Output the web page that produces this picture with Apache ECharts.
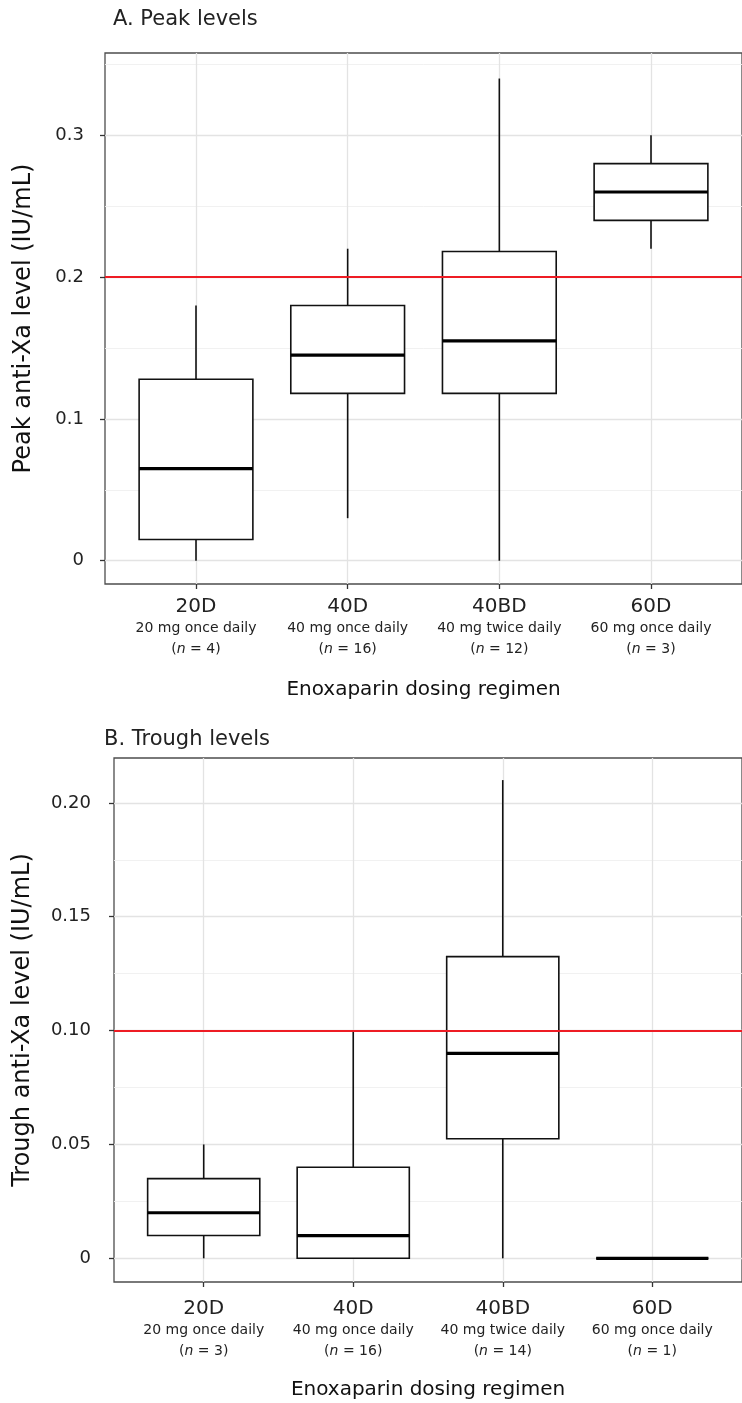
<!DOCTYPE html>
<html>
<head>
<meta charset="utf-8">
<script src="https://cdn.jsdelivr.net/npm/echarts@6/dist/echarts.min.js"></script>
<style>
  html, body { margin: 0; padding: 0; background: #fff; }
  #chart { width: 742px; height: 1403px; }
</style>
</head>
<body>
<div id="chart"></div>
<script>
// dosing regimens on the x axis
const categories = ['20D', '40D', '40BD', '60D'];
const regimens = ['20 mg once daily', '40 mg once daily', '40 mg twice daily', '60 mg once daily'];
const peakN = [4, 16, 12, 3];
const troughN = [3, 16, 14, 1];

// box stats per regimen: [min, Q1, median, Q3, max]
const peakBoxes = [
  [0, 0.015, 0.065, 0.128, 0.18],
  [0.03, 0.118, 0.145, 0.18, 0.22],
  [0, 0.118, 0.155, 0.218, 0.34],
  [0.22, 0.24, 0.26, 0.28, 0.30]
];
const troughBoxes = [
  [0, 0.01, 0.02, 0.035, 0.05],
  [0, 0, 0.01, 0.04, 0.10],
  [0, 0.0525, 0.09, 0.1325, 0.21],
  [0, 0, 0, 0, 0]
];

// y ticks
const peakTicks = [0, 0.1, 0.2, 0.3];
const peakMinorTicks = [0.05, 0.15, 0.25, 0.35];
const troughTicks = [0, 0.05, 0.1, 0.15, 0.2];
const troughMinorTicks = [0.025, 0.075, 0.125, 0.175];

// target lines
const peakTarget = 0.2;
const troughTarget = 0.1;

const FONT = '"DejaVu Sans", "Liberation Sans", sans-serif';
const catPositions = categories.map((c, i) => i + 1);

function renderBox(params, api) {
  const x = api.value(0);
  const lo = api.coord([x, api.value(1)]);
  const q1 = api.coord([x, api.value(2)]);
  const med = api.coord([x, api.value(3)]);
  const q3 = api.coord([x, api.value(4)]);
  const hi = api.coord([x, api.value(5)]);
  const half = api.size([0.75, 0])[0] / 2;
  const edge = { stroke: '#111', lineWidth: 1.6 };
  return {
    type: 'group',
    children: [
      { type: 'line', shape: { x1: lo[0], y1: lo[1], x2: q1[0], y2: q1[1] }, style: edge },
      { type: 'line', shape: { x1: q3[0], y1: q3[1], x2: hi[0], y2: hi[1] }, style: edge },
      { type: 'rect', shape: { x: q1[0] - half, y: q3[1], width: half * 2, height: q1[1] - q3[1] },
        style: { fill: '#fff', stroke: '#111', lineWidth: 1.6 } },
      { type: 'line', shape: { x1: med[0] - half, y1: med[1], x2: med[0] + half, y2: med[1] },
        style: { stroke: '#000', lineWidth: 3.2 } }
    ]
  };
}

function xAxisFor(gridIndex, counts, margin, gap) {
  return {
    type: 'value', gridIndex: gridIndex, min: 0.4, max: 4.6,
    name: 'Enoxaparin dosing regimen', nameLocation: 'middle', nameGap: gap,
    nameTextStyle: { fontSize: 20, color: '#111', fontFamily: FONT, lineHeight: 24 },
    axisLine: { show: false, onZero: false },
    axisTick: { show: true, customValues: catPositions, length: 5, lineStyle: { color: '#333', width: 1.3 } },
    axisLabel: {
      customValues: catPositions, margin: margin,
      formatter: function (v) {
        const i = Math.round(v) - 1;
        return '{a|' + categories[i] + '}\n{b|' + regimens[i] + '}\n{b|(}{i|n}{b| = ' + counts[i] + ')}';
      },
      rich: {
        a: { fontSize: 20, lineHeight: 22, color: '#222', fontFamily: FONT },
        b: { fontSize: 14, lineHeight: 21, color: '#222', fontFamily: FONT },
        i: { fontSize: 14, lineHeight: 21, color: '#222', fontFamily: FONT, fontStyle: 'italic' }
      }
    },
    splitLine: { show: true, lineStyle: { color: '#e3e3e3', width: 1.3 } }
  };
}

function yAxesFor(gridIndex, name, min, max, ticks, minorTicks, digits, gap, margin) {
  return [{
    type: 'value', gridIndex: gridIndex, min: min, max: max,
    name: name, nameLocation: 'middle', nameGap: gap,
    nameTextStyle: { fontSize: 24, color: '#111', fontFamily: FONT, lineHeight: 24 },
    axisLine: { show: false, onZero: false },
    axisTick: { show: true, customValues: ticks, length: 5, lineStyle: { color: '#333', width: 1.3 } },
    axisLabel: {
      customValues: ticks, margin: margin, fontSize: 18, color: '#222', fontFamily: FONT,
      formatter: v => (v === 0 ? '0' : v.toFixed(digits))
    },
    splitLine: { show: true, lineStyle: { color: '#e3e3e3', width: 1.3 } }
  }, {
    type: 'value', gridIndex: gridIndex, min: min, max: max,
    axisLine: { show: false, onZero: false },
    axisTick: { show: false, customValues: minorTicks },
    axisLabel: { show: false, customValues: minorTicks },
    splitLine: { show: true, lineStyle: { color: '#efefef', width: 0.9 } }
  }];
}

function boxSeries(idx, boxes, target) {
  return {
    type: 'custom', xAxisIndex: idx, yAxisIndex: idx * 2,
    renderItem: renderBox,
    encode: { x: 0, y: [1, 2, 3, 4, 5] },
    data: boxes.map((b, i) => [catPositions[i]].concat(b)),
    z: 3,
    markLine: {
      silent: true, symbol: 'none', animation: false,
      label: { show: false },
      lineStyle: { color: '#ee1c24', width: 2, type: 'solid', opacity: 1 },
      data: [{ yAxis: target }]
    }
  };
}

const chart = echarts.init(document.getElementById('chart'));
chart.setOption({
  animation: false,
  backgroundColor: '#fff',
  title: [
    { text: 'A. Peak levels', left: 113, top: 8, padding: 0,
      textStyle: { fontSize: 21, fontWeight: 'normal', color: '#222', fontFamily: FONT, lineHeight: 24 } },
    { text: 'B. Trough levels', left: 104, top: 728, padding: 0,
      textStyle: { fontSize: 21, fontWeight: 'normal', color: '#222', fontFamily: FONT, lineHeight: 24 } }
  ],
  grid: [
    { left: 105, top: 53, right: -8, height: 531, show: true, borderColor: '#4d4d4d', borderWidth: 1.3 },
    { left: 114, top: 758, right: 0, height: 525, show: true, borderColor: '#4d4d4d', borderWidth: 1.3 }
  ],
  xAxis: [xAxisFor(0, peakN, 12, 94), xAxisFor(1, troughN, 16, 96)],
  yAxis: yAxesFor(0, 'Peak anti-Xa level (IU/mL)', -0.0164, 0.358, peakTicks, peakMinorTicks, 1, 69, 21)
    .concat(yAxesFor(1, 'Trough anti-Xa level (IU/mL)', -0.0104, 0.2197, troughTicks, troughMinorTicks, 2, 79, 23)),
  series: [
    boxSeries(0, peakBoxes, peakTarget),
    boxSeries(1, troughBoxes, troughTarget)
  ]
});
</script>
</body>
</html>
